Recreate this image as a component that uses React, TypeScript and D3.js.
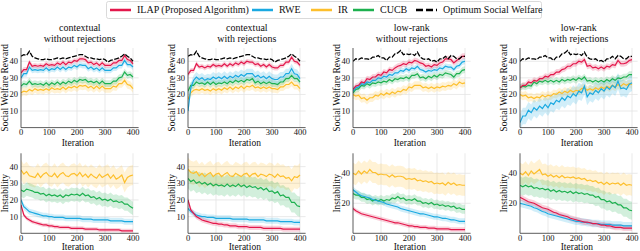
import React, { useEffect, useRef } from "react";
import * as d3 from "d3";

const iterations = d3.range(0, 401, 10);

const seriesNames = ["ILAP (Proposed Algorithm)", "RWE", "IR", "CUCB", "Optimum Social Welfare"];
const colors = ["#e3174b", "#1aa9e1", "#fdbf2c", "#1db04f", "#000000"];

const panelTitles = [
  ["contextual", "without rejections"],
  ["contextual", "with rejections"],
  ["low-rank", "without rejections"],
  ["low-rank", "with rejections"],
];
const xTicks = [0, 100, 200, 300, 400];
const rewardTicks = [10, 20, 30, 40];
const instabTicksA = [10, 20, 30, 40];
const instabTicksB = [20, 40];

// --- Social welfare reward ---
const optContextual = [43,44,43.5,46,43,42,41.5,41,41,41.5,41,41,41.5,42,41.5,42,41.5,42,42.5,43,43.5,44,44,43,42,42,41.5,41.5,41,41.5,41,39.5,40.5,41,41.5,42,43,44.5,43,42,40];
const optLowRank = [40,41.5,41,42,41.5,41.5,41,42.5,42.5,43.5,42,42,40.5,42.5,42.5,44.5,45,46.5,44,44.5,44,44.5,43.5,45.5,42.5,41.5,41,41.5,40,40.5,39.5,41.5,41.5,43,41.5,43.5,43,41.5,41.5,43,43];

const rewP1Ilap = [33,35,35,39.5,37,37.5,37,37.5,37,38.5,37.5,38,37.5,39,38,39.5,38,39.5,39,40.5,40,41.5,41.5,41,39,39.5,38,39,37.5,39,37.5,37.5,37.5,39,39,40.5,40.5,43.5,41,40.5,38.5];
const rewP1Rwe = [30,32.5,32.5,36.5,34.5,35,34.5,35,34.5,36,34.5,35.5,35,36.5,35,36.5,35,36.5,36,37.5,36.5,38,37.5,37.5,35.5,36.5,35,36,34.5,36,34.5,34.5,34.5,36,36,37.5,37.5,40.5,38,38,36.5];
const rewP1Ir = [21,22,21.5,23,22,23.5,22.5,23,22.5,23.5,22.5,24,23,23.5,23,24.5,23,24.5,24,25,24,25.5,25,25.5,24,25,23.5,25,23.5,25,23.5,23.5,23.5,25,24.5,26.5,26.5,28.5,26,25.5,23.5];
const rewP1Cucb = [25,26.5,26,28,26,26.5,26,26.5,25.5,27,25.5,27,26,27.5,26,27.5,26.5,28,27,28.5,27.5,29,28.5,29,27.5,28,27,28,26.5,28,26.5,26.5,26.5,28,28,30,30.5,33.5,31.5,32,30.5];

const rewP2Ilap = [32,34.5,34.5,38.5,36.5,37,36,37,36.5,38,37,37.5,37,38.5,37,38.5,37.5,39,38,39.5,38.5,40,39.5,39.5,38,38.5,37,38,36.5,38,36.5,36,36,37.5,37.5,39.5,39.5,42.5,40,39.5,37.5];
const rewP2Rwe = [10,24,28.5,30.5,29,30,28.5,29.5,29,30.5,29.5,30.5,29.5,31,29.5,31,30,31.5,30.5,32,31,32.5,32.5,32.5,30.5,31.5,30,31,29.5,31,29.5,29,29,30.5,30.5,32.5,32.5,35.5,32.5,32,29.5];
const rewP2Ir = [17,21,22.5,23,22.5,23.5,22.5,23,22,23.5,22.5,23.5,22.5,24,23,24.5,23,24.5,23.5,25,23.5,25,24.5,25.5,24,24.5,23.5,24.5,23.5,24.5,23.5,23.5,23,24.5,24.5,26,26,27.5,25.5,25.5,23.5];
const rewP2Cucb = [22,25.5,25.5,27.5,26.5,27,26,27.5,26,27.5,26,27,26.5,27.5,26.5,28,27,28.5,27.5,28.5,27.5,29,28.5,29.5,27,28,26.5,27.5,26.5,27.5,26.5,26.5,26,27.5,27.5,29.5,29.5,31.5,29.5,29.5,27.5];

const rewP3Ilap = [23,25,25.5,27.5,27,29.5,29,30.5,30.5,32,31.5,33.5,33,35,34.5,36,37,37.5,38.5,38,39.5,39,40.5,40,39,38.5,37,37.5,36.5,38,37.5,39,39.5,41.5,41.5,41,39,40.5,41.5,43,43];
const rewP3Rwe = [22,24,24.5,26.5,26,27.5,27,28.5,28.5,30,29.5,31,30.5,32,31.5,33,33,34.5,34,35.5,34.5,36,35.5,37,35,34.5,33.5,34.5,34,35,34.5,36,35.5,37,36.5,36.5,35,37,37.5,39.5,40];
const rewP3Ir = [20,19,19.5,17.5,18,16.5,18,18,19.5,19,20.5,19.5,21,20,21.5,20.5,22,21.5,23,22.5,24.5,24,25.5,25.5,25.5,24,24.5,23.5,24.5,23.5,24.5,24,25,24.5,25.5,25,26.5,25.5,27.5,26.5,27];
const rewP3Cucb = [21,23,23.5,25.5,25,26.5,25.5,27,26.5,27.5,27,28,27.5,29,28,29.5,29,30,29.5,30.5,29.5,31.5,31.5,32.5,30,30.5,29.5,31,30,31.5,30.5,32,31.5,33,32.5,32,30.5,32.5,32.5,34.5,35];

const rewP4Ilap = [24,25.5,25.5,27.5,27,28.5,28,29.5,29.5,31,30.5,32,32,33.5,33.5,35,35.5,37,37,38.5,38.5,40,39.5,41,37,37.5,36,36.5,35.5,36.5,35.5,37,36.5,38,37.5,40.5,38.5,38.5,39,40.5,41];
const rewP4Rwe = [3,7,7,10.5,9,12,10.5,13,11.5,14,12,15,14,16.5,15.5,18,16.5,19,18,20.5,19,22,21,25,18.5,21,20,22.5,21,23.5,22,24.5,23,25.5,24,28,23.5,24,23,26,27];
const rewP4Ir = [20,19,19.5,18,18.5,17.5,18.5,18,19.5,18.5,19.5,19,20.5,20,21.5,20.5,22,21,22.5,21.5,22.5,22,23.5,24,22.5,23.5,22.5,24,23,24.5,23.5,25,24,25.5,24.5,26,25,26.5,25.5,26.5,26];
const rewP4Cucb = [24,25,24.5,25.5,25,27.5,26.5,28,27.5,28.5,27.5,28.5,27.5,28.5,27.5,29,28,29,28.5,29.5,28.5,30,29,30.5,28,28.5,27.5,28.5,27.5,28.5,27.5,29,28,29.5,28.5,30,29.5,30.5,30.5,32,32];

// --- Instability ---
const insP1Ilap = [17,11,9,8,7,6.5,6,5.5,5,5,4.5,4.5,4,4,3.5,3.5,3.5,3.5,3,3,3,3,3,2.5,2.5,2.5,2.5,2.5,2,2,2,2,2,2,2,2,1.5,1.5,1.5,1.5,1.5];
const insP1Rwe = [20,16,14.5,13,12.5,12,11.5,11,10.5,10.5,10,10,9.5,9.5,9.5,9.5,9,9,9,9,9,9,8.5,8.5,8.5,8.5,8,8,8,8,8,8,7.5,7.5,7.5,7.5,7.5,7,7,7,7];
const insP1Ir = [38,35.5,37,34.5,34,33.5,36,33.5,35.5,36.5,34.5,34,36,33.5,35.5,36.5,34.5,34,35.5,36,34.5,36.5,34,35.5,33.5,35.5,34,33,35.5,33.5,34.5,35.5,33,35,32.5,33.5,35,30.5,33.5,34.5,35];
const insP1Cucb = [26,25,26.5,26,25.5,24.5,24.5,23.5,24,22.5,23.5,22.5,23,22,23,21.5,23,22.5,23.5,23,23.5,22.5,24,22.5,23,21.5,22,20.5,21.5,20,20.5,19.5,20.5,19,19.5,18.5,19,17.5,17.5,16,15];

const insP2Ilap = [20,14,12,10,9,8,7.5,7,6.5,6,6,5.5,5.5,5,5,4.5,4.5,4.5,4,4,4,4,3.5,3.5,3.5,3.5,3.5,3,3,3,3,3,3,3,2.5,2.5,2.5,2.5,2.5,2.5,2.5];
const insP2Rwe = [15,13,12,11,10.5,10,10,9.5,9.5,9.5,9,9,9,9,9,9,8.5,8.5,8.5,8.5,8.5,8.5,8,8,8,8,8,8,7.5,7.5,7.5,7.5,7.5,7,7,7,7,7,6.5,6.5,6.5];
const insP2Ir = [38.5,36.5,36,37,34.5,36,34,35.5,36.5,34,35.5,36,34,35.5,36.5,34.5,34,36,35,34,35.5,36,34,35.5,36,34,35.5,35,34,35.5,35,33.5,35.5,34,34.5,33,33.5,31.5,34,33.5,35];
const insP2Cucb = [33,31,32,30,31,29.5,30.5,29,30,28.5,29.5,28.5,29,28,29.5,28,29,28,29.5,28,29,27.5,28.5,27.5,28,26.5,27.5,26,27,25,25.5,24,25,22.5,23,21.5,21.5,18.5,18.5,16.5,16];

const insP3Ilap = [16.5,15,14,13,12.5,12,11.5,11,10.5,10,9.5,9,8.5,8,7.5,7,7,6.5,6,5.5,5,5,4.5,4.5,4,4,4,3.5,3.5,3.5,3,3,3,3,3,2.5,2.5,2.5,2.5,2.5,2.5];
const insP3Rwe = [29,27.5,26,25,24.5,24,23.5,22.5,22,21.5,21,20.5,19.5,19,18.5,18,17.5,16.5,16,15.5,15,14.5,14,13.5,13,13,12.5,12,11.5,11,11,10.5,10,10,9.5,9,9,8.5,8,8,8];
const insP3Ir = [40,39,41.5,39.5,41.5,40,42.5,40.5,40.5,39,39.5,39,39,37.5,39,37.5,38,38,37.5,36,36.5,36,36.5,35,35.5,34.5,35,34,34.5,33,33.5,33,33.5,32,34,32.5,33.5,32,32.5,32,32];
const insP3Cucb = [26.5,25.5,25.5,24,24,22.5,23,21.5,22.5,21.5,22.5,21.5,22.5,22,23.5,23,24.5,23,23.5,22,22.5,22,23,21.5,21.5,20,20.5,19.5,20.5,19,19.5,18.5,19,18,18.5,17.5,18,16.5,17,16,16];

const insP4Ilap = [24,23,22,21,20.5,20,19,18,17,16.5,16,15,14,13.5,12.5,12,11.5,11,10,9.5,9,8.5,8,7.5,7.5,7,6.5,6.5,6,5.5,5.5,5,5,4.5,4,4,4,3.5,3.5,3.5,3.5];
const insP4Rwe = [20,19.5,19,18.5,18,17,16.5,15.5,14.5,14,13,12.5,12,11.5,11,10.5,10,9.5,9,8.5,8,8,7.5,7.5,7,7,6.5,6.5,6.5,6,6,6,6,5.5,5.5,5.5,5.5,5,5,5,5];
const insP4Ir = [40,39,41,38.5,41.5,39.5,41,42.5,39,39.5,38,39,37.5,38.5,37,38.5,37,37.5,37,37.5,36.5,37,36,36.5,35,35.5,34.5,35,33.5,34,32.5,34,32.5,33.5,33,33.5,32,33.5,32,32.5,32];
const insP4Cucb = [32,31,32,31,31.5,30,30.5,29.5,30,29,29.5,28,29,27.5,28.5,27.5,28,27,28,26.5,27.5,26.5,27,26,26.5,25.5,25.5,24,24.5,22.5,22.5,21,21.5,20,20.5,19,19,17,17,15.5,15];

// half-width of the shaded bands, per series [ILAP, RWE, IR, CUCB]
const rewardSpread = [
  [1.5, 1.8, 2.5, 2],
  [1.5, 3, 2.5, 2],
  [1.8, 1.8, 2.5, 2],
  [1.8, 5, 2.5, 2],
];
const instabSpread = [
  [1.2, 1.8, 6, 4],
  [1.5, 1.8, 7, 6],
  [1.5, 2, 7, 3],
  [2, 2.5, 7, 6],
];

const rewardData = [
  [rewP1Ilap, rewP1Rwe, rewP1Ir, rewP1Cucb, optContextual],
  [rewP2Ilap, rewP2Rwe, rewP2Ir, rewP2Cucb, optContextual],
  [rewP3Ilap, rewP3Rwe, rewP3Ir, rewP3Cucb, optLowRank],
  [rewP4Ilap, rewP4Rwe, rewP4Ir, rewP4Cucb, optLowRank],
];
const instabData = [
  [insP1Ilap, insP1Rwe, insP1Ir, insP1Cucb],
  [insP2Ilap, insP2Rwe, insP2Ir, insP2Cucb],
  [insP3Ilap, insP3Rwe, insP3Ir, insP3Cucb],
  [insP4Ilap, insP4Rwe, insP4Ir, insP4Cucb],
];

const FONT = "'Liberation Serif', 'Times New Roman', Times, serif";

const App = () => {
  const ref = useRef<SVGSVGElement | null>(null);

  useEffect(() => {
    if (!ref.current) return;
    const svg = d3.select(ref.current);
    svg.selectAll("*").remove();

    const panelLeft = [21, 188, 353, 520];
    const drawOrder = [2, 3, 1, 0]; // IR, CUCB, RWE, ILAP
    const plotW = 117.6;

    const label = (sel: d3.Selection<any, any, any, any>, size: number) =>
      sel.style("font-family", FONT).attr("font-size", size).attr("fill", "#111");

    const drawPanel = (
      left: number,
      top: number,
      bottom: number,
      yMax: number,
      ticks: number[],
      data: number[][],
      spread: number[],
      yLabel: string,
      xLabelGap: number,
    ) => {
      const x = d3.scaleLinear().domain([0, 420]).range([left, left + plotW]);
      const y = d3.scaleLinear().domain([0, yMax]).range([bottom, top]);
      const g = svg.append("g");

      // grid
      g.selectAll(".gy")
        .data(ticks)
        .enter()
        .append("line")
        .attr("x1", left)
        .attr("x2", left + plotW)
        .attr("y1", (d) => y(d))
        .attr("y2", (d) => y(d))
        .attr("stroke", "#e3e3e3")
        .attr("stroke-width", 0.8);
      g.selectAll(".gx")
        .data(xTicks.slice(1))
        .enter()
        .append("line")
        .attr("x1", (d) => x(d))
        .attr("x2", (d) => x(d))
        .attr("y1", top)
        .attr("y2", bottom)
        .attr("stroke", "#e3e3e3")
        .attr("stroke-width", 0.8);

      const clipId = `clip-${left}-${Math.round(top)}`;
      svg
        .append("clipPath")
        .attr("id", clipId)
        .append("rect")
        .attr("x", left)
        .attr("y", top)
        .attr("width", plotW)
        .attr("height", bottom - top);
      const plot = g.append("g").attr("clip-path", `url(#${clipId})`);

      // bands
      drawOrder.forEach((k) => {
        const area = d3
          .area<number>()
          .x((_, i) => x(iterations[i]))
          .y0((d) => y(d - spread[k]))
          .y1((d) => y(d + spread[k]));
        plot
          .append("path")
          .attr("d", area(data[k]))
          .attr("fill", colors[k])
          .attr("opacity", 0.2);
      });

      // lines
      const line = d3
        .line<number>()
        .x((_, i) => x(iterations[i]))
        .y((d) => y(d));
      drawOrder.forEach((k) => {
        plot
          .append("path")
          .attr("d", line(data[k]))
          .attr("fill", "none")
          .attr("stroke", colors[k])
          .attr("stroke-width", 1.2);
      });
      if (data[4]) {
        plot
          .append("path")
          .attr("d", line(data[4]))
          .attr("fill", "none")
          .attr("stroke", colors[4])
          .attr("stroke-width", 1.3)
          .attr("stroke-dasharray", "5,1.5");
      }

      // spines
      g.append("line")
        .attr("x1", left)
        .attr("x2", left)
        .attr("y1", top)
        .attr("y2", bottom)
        .attr("stroke", "#333")
        .attr("stroke-width", 0.8);
      g.append("line")
        .attr("x1", left)
        .attr("x2", left + plotW)
        .attr("y1", bottom)
        .attr("y2", bottom)
        .attr("stroke", "#333")
        .attr("stroke-width", 0.8);

      // tick labels
      label(
        g.selectAll(".yt")
          .data(ticks)
          .enter()
          .append("text")
          .attr("x", left - 3)
          .attr("y", (d) => y(d) + 3)
          .attr("text-anchor", "end")
          .text((d) => d),
        8.5,
      );
      label(
        g.selectAll(".xt")
          .data(xTicks)
          .enter()
          .append("text")
          .attr("x", (d) => x(d))
          .attr("y", bottom + 7.5)
          .attr("text-anchor", "middle")
          .text((d) => d),
        8.5,
      );

      label(
        g.append("text")
          .attr("x", left + plotW / 2 - 2)
          .attr("y", bottom + xLabelGap)
          .attr("text-anchor", "middle")
          .text("Iteration"),
        9.5,
      );
      label(
        g.append("text")
          .attr("transform", `translate(${left - 13},${(top + bottom) / 2}) rotate(-90)`)
          .attr("text-anchor", "middle")
          .text(yLabel),
        9.5,
      );
    };

    panelLeft.forEach((left, p) => {
      drawPanel(left, 48, 127.6, 48, rewardTicks, rewardData[p], rewardSpread[p], "Social Welfare Reward", 18);
      const lowRank = p >= 2;
      drawPanel(
        left,
        153.3,
        233.3,
        lowRank ? 53.3 : 48,
        lowRank ? instabTicksB : instabTicksA,
        instabData[p],
        instabSpread[p],
        "Instability",
        16.5,
      );
      panelTitles[p].forEach((t, i) => {
        label(
          svg
            .append("text")
            .attr("x", left + plotW / 2)
            .attr("y", 31 + i * 11)
            .attr("text-anchor", "middle")
            .text(t),
          10,
        );
      });
    });

    // legend
    const legend = svg.append("g");
    legend
      .append("rect")
      .attr("x", 106.5)
      .attr("y", 1.5)
      .attr("width", 435)
      .attr("height", 17)
      .attr("rx", 2)
      .attr("fill", "#fff")
      .attr("stroke", "#d0d0d0")
      .attr("stroke-width", 0.8);
    const legendX = [110, 252, 311, 353, 416];
    seriesNames.forEach((name, i) => {
      legend
        .append("line")
        .attr("x1", legendX[i])
        .attr("x2", legendX[i] + 21)
        .attr("y1", 10)
        .attr("y2", 10)
        .attr("stroke", colors[i])
        .attr("stroke-width", 2.5)
        .attr("stroke-dasharray", i === 4 ? "7,3" : null);
      label(
        legend
          .append("text")
          .attr("x", legendX[i] + 27)
          .attr("y", 13)
          .text(name),
        10,
      );
    });
  }, []);

  return (
    <svg
      ref={ref}
      width={640}
      height={251}
      style={{ position: "absolute", left: 0, top: 0, background: "#fff", fontFamily: FONT }}
    />
  );
};

export default App;
